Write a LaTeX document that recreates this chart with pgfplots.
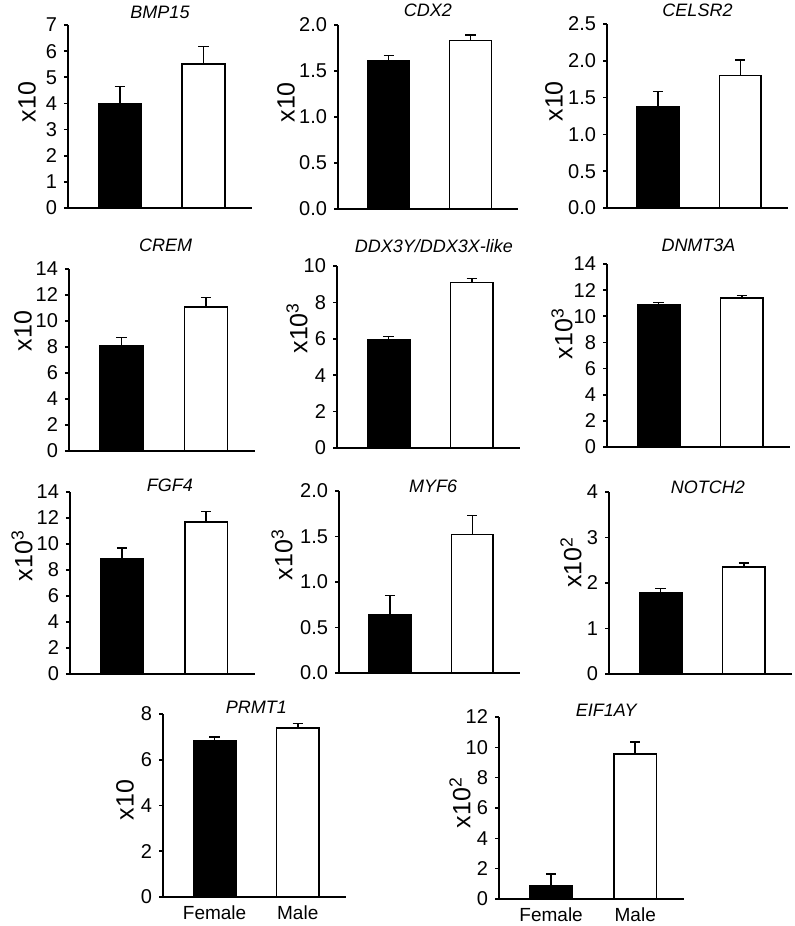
\documentclass[border=0pt]{standalone}
\usepackage{fontspec}
\setmainfont{Liberation Sans}
\usepackage{pgfplots}
\pgfplotsset{compat=1.18}
\pgfplotsset{
  every axis title/.style={at={(0.5,1)}, anchor=base},
  panel/.style={
    scale only axis,
    anchor=south west,
    axis x line=bottom, axis y line=left,
    axis line style={-, line width=0.8pt, black},
    xmin=-0.62, xmax=1.58, ymin=0,
    xtick=\empty,
    tick align=outside,
    major tick length=2pt,
    ytick style={line width=0.8pt, black},
    yticklabel style={font=\fontsize{10}{12}\selectfont, /pgf/number format/assume math mode=true},
    title style={font=\itshape\fontsize{9}{11}\selectfont},
    ylabel style={font=\fontsize{12.5}{14}\selectfont, anchor=center},
    clip=false,
  },
  dec/.style={yticklabel style={/pgf/number format/.cd, fixed, fixed zerofill, precision=1}},
  sexes/.style={xtick={0,1}, xticklabels={Female,Male}, x tick style={draw=none},
    xticklabel style={font=\fontsize{9.5}{11}\selectfont, yshift=1pt}},
  fem/.style={ybar, bar width=0.51, bar shift=0pt, fill=black, draw=black, line width=0.8pt,
    error bars/.cd, y dir=plus, y explicit,
    error bar style={line width=0.75pt, black},
    error mark options={rotate=90, line width=0.75pt, black, mark size=2.6pt}},
  mal/.style={ybar, bar width=0.51, bar shift=0pt, fill=white, draw=black, line width=0.8pt,
    error bars/.cd, y dir=plus, y explicit,
    error bar style={line width=0.75pt, black},
    error mark options={rotate=90, line width=0.75pt, black, mark size=2.6pt}},
}
\begin{document}
\begin{tikzpicture}
\useasboundingbox (0,0) rectangle (397pt,-463pt);

% Row 1
\begin{axis}[panel, at={(34pt,-104pt)}, width=92pt, height=91.5pt,
  ymax=7, ytick={0,1,...,7}, title={BMP15}, title style={at={(0.5,1)}, yshift=3.3pt},
  ylabel={x10}, ylabel style={at={(rel axis cs:-0.223,0.58)}}]
\addplot[fem] coordinates {(0,4.0) +- (0,0.65)};
\addplot[mal] coordinates {(1,5.5) +- (0,0.68)};
\end{axis}

\begin{axis}[panel, dec, at={(169pt,-104.5pt)}, width=90pt, height=92pt,
  ymax=2, ytick={0,0.5,1,1.5,2}, title={CDX2}, title style={at={(0.5,1)}, yshift=4.5pt},
  ylabel={x10}, ylabel style={at={(rel axis cs:-0.289,0.58)}}]
\addplot[fem] coordinates {(0,1.61) +- (0,0.06)};
\addplot[mal] coordinates {(1,1.83) +- (0,0.06)};
\end{axis}

\begin{axis}[panel, dec, at={(303.5pt,-104pt)}, width=90.5pt, height=92pt,
  ymax=2.5, ytick={0,0.5,1,1.5,2,2.5}, title={CELSR2}, title style={at={(0.5,1)}, yshift=3.7pt},
  ylabel={x10}, ylabel style={at={(rel axis cs:-0.293,0.58)}}]
\addplot[fem] coordinates {(0,1.38) +- (0,0.20)};
\addplot[mal] coordinates {(1,1.80) +- (0,0.21)};
\end{axis}

% Row 2
\begin{axis}[panel, at={(34.5pt,-225.5pt)}, width=93pt, height=91pt,
  ymax=14, ytick={0,2,...,14}, title={CREM}, title style={at={(0.52,1)}, yshift=8.7pt},
  ylabel={x10}, ylabel style={at={(rel axis cs:-0.247,0.66)}}]
\addplot[fem] coordinates {(0,8.1) +- (0,0.65)};
\addplot[mal] coordinates {(1,11.1) +- (0,0.7)};
\end{axis}

\begin{axis}[panel, at={(168.5pt,-224pt)}, width=91.5pt, height=91pt,
  ymax=10, ytick={0,2,...,10}, title={DDX3Y/DDX3X-like}, title style={at={(0.53,1)}, yshift=7pt},
  ylabel={x10\textsuperscript{3}}, ylabel style={at={(rel axis cs:-0.219,0.66)}}]
\addplot[fem] coordinates {(0,5.93) +- (0,0.19)};
\addplot[mal] coordinates {(1,9.1) +- (0,0.2)};
\end{axis}

\begin{axis}[panel, at={(303.5pt,-223.5pt)}, width=91.5pt, height=91.5pt,
  ymax=14, ytick={0,2,...,14}, title={DNMT3A}, title style={at={(0.5,1)}, yshift=6.2pt},
  ylabel={x10\textsuperscript{3}}, ylabel style={at={(rel axis cs:-0.246,0.62)}}]
\addplot[fem] coordinates {(0,10.85) +- (0,0.2)};
\addplot[mal] coordinates {(1,11.4) +- (0,0.2)};
\end{axis}

% Row 3
\begin{axis}[panel, at={(35pt,-337pt)}, width=92.5pt, height=91pt,
  ymax=14, ytick={0,2,...,14}, title={FGF4}, title style={at={(0.54,1)}, yshift=0.2pt},
  ylabel={x10\textsuperscript{3}}, ylabel style={at={(rel axis cs:-0.259,0.65)}}]
\addplot[fem] coordinates {(0,8.9) +- (0,0.8)};
\addplot[mal] coordinates {(1,11.7) +- (0,0.8)};
\end{axis}

\begin{axis}[panel, dec, at={(169.5pt,-336.5pt)}, width=90.5pt, height=91pt,
  ymax=2, ytick={0,0.5,1,1.5,2}, title={MYF6}, title style={at={(0.52,1)}, yshift=-0.5pt},
  ylabel={x10\textsuperscript{3}}, ylabel style={at={(rel axis cs:-0.315,0.65)}}]
\addplot[fem] coordinates {(0,0.64) +- (0,0.21)};
\addplot[mal] coordinates {(1,1.52) +- (0,0.21)};
\end{axis}

\begin{axis}[panel, at={(304.5pt,-337pt)}, width=91.5pt, height=91pt,
  ymax=4, ytick={0,1,...,4}, title={NOTCH2}, title style={at={(0.54,1)}, yshift=-0.6pt},
  ylabel={x10\textsuperscript{2}}, ylabel style={at={(rel axis cs:-0.208,0.615)}}]
\addplot[fem] coordinates {(0,1.79) +- (0,0.09)};
\addplot[mal] coordinates {(1,2.35) +- (0,0.09)};
\end{axis}

% Row 4
\begin{axis}[panel, sexes, at={(81.5pt,-448.5pt)}, width=91.5pt, height=91.5pt,
  ymax=8, ytick={0,2,...,8}, title={PRMT1}, title style={at={(0.51,1)}, yshift=0.3pt},
  ylabel={x10}, ylabel style={at={(rel axis cs:-0.208,0.53)}}]
\addplot[fem] coordinates {(0,6.85) +- (0,0.15)};
\addplot[mal] coordinates {(1,7.4) +- (0,0.18)};
\end{axis}

\begin{axis}[panel, sexes, at={(249.5pt,-449.5pt)}, width=92.5pt, height=91pt,
  ymax=12, ytick={0,2,...,12}, title={EIF1AY}, title style={at={(0.58,1)}, yshift=0.2pt},
  ylabel={x10\textsuperscript{2}}, ylabel style={at={(rel axis cs:-0.211,0.53)}}]
\addplot[fem] coordinates {(0,0.85) +- (0,0.8)};
\addplot[mal] coordinates {(1,9.55) +- (0,0.8)};
\end{axis}
\end{tikzpicture}
\end{document}
